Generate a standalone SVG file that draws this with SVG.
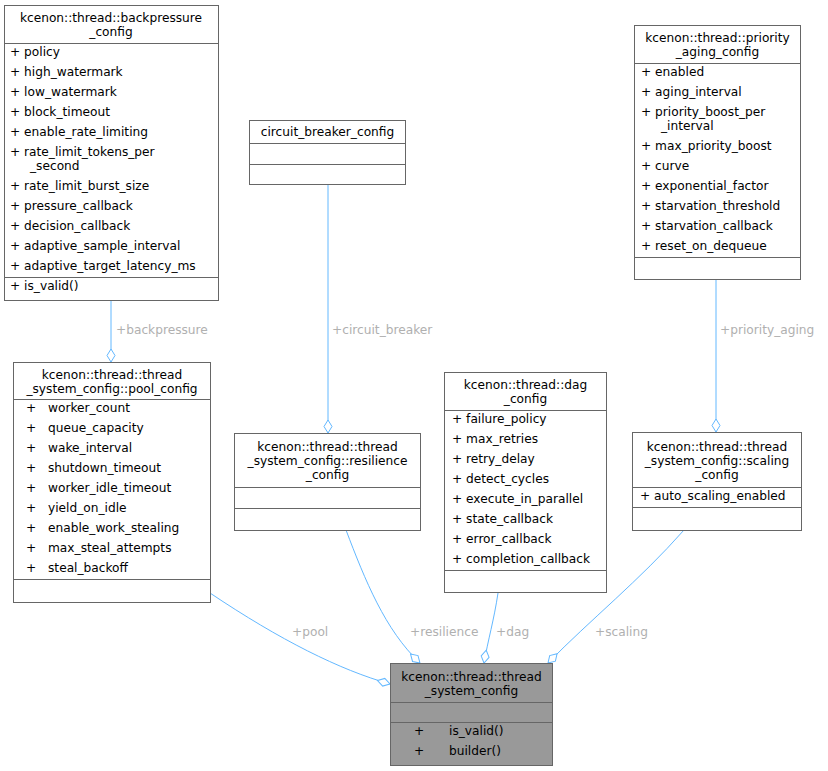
<svg xmlns="http://www.w3.org/2000/svg" width="828" height="771" viewBox="0 0 828 771">
<style>
.b{fill:#fff;stroke:#666;stroke-width:1}
.m{fill:#999;stroke:#666;stroke-width:1}
.s{stroke:#666;stroke-width:1}
text{font-family:"DejaVu Sans",sans-serif;font-size:12.2px;fill:#000}
.c{text-anchor:middle}
.l{fill:#b0b0b0}
.e{fill:none;stroke:#63b8ff;stroke-width:1;marker-end:url(#d)}
</style>
<defs>
<marker id="d" markerUnits="userSpaceOnUse" markerWidth="16" markerHeight="12" refX="14" refY="5" orient="auto">
<path d="M1,5 L7.5,1 L14,5 L7.5,9 Z" fill="#fff" stroke="#63b8ff"/>
</marker>
</defs>
<rect width="828" height="771" fill="#fff"/>
<g id="connectors">
<path class="e" d="M111,300 V362"/>
<text class="l" x="116" y="334">+backpressure</text>
<path class="e" d="M328,185 V433"/>
<text class="l" x="332" y="334">+circuit_breaker</text>
<path class="e" d="M716,280 V432"/>
<text class="l" x="720" y="334">+priority_aging</text>
<path class="e" d="M210,593 C280,640 340,670 390,684"/>
<text class="l" x="292" y="636">+pool</text>
<path class="e" d="M346,530 C365,580 385,630 420,663"/>
<text class="l" x="410" y="636">+resilience</text>
<path class="e" d="M498,593 C494,620 488,640 484,663"/>
<text class="l" x="496" y="636">+dag</text>
<path class="e" d="M684,530 C640,580 590,620 548,663"/>
<text class="l" x="595" y="636">+scaling</text>
</g>
<g id="backpressure_config">
<rect class="b" x="4.5" y="5.5" width="214" height="295"/>
<text class="c" x="111" y="22">kcenon::thread::backpressure</text>
<text class="c" x="111" y="36">_config</text>
<line class="s" x1="4.5" y1="43.5" x2="218.5" y2="43.5"/>
<text x="10" y="56">+  policy</text>
<text x="10" y="76">+  high_watermark</text>
<text x="10" y="96">+  low_watermark</text>
<text x="10" y="116">+  block_timeout</text>
<text x="10" y="136">+  enable_rate_limiting</text>
<text x="10" y="156">+  rate_limit_tokens_per</text>
<text x="30" y="170">_second</text>
<text x="10" y="190">+  rate_limit_burst_size</text>
<text x="10" y="210">+  pressure_callback</text>
<text x="10" y="230">+  decision_callback</text>
<text x="10" y="250">+  adaptive_sample_interval</text>
<text x="10" y="270">+  adaptive_target_latency_ms</text>
<line class="s" x1="4.5" y1="277.5" x2="218.5" y2="277.5"/>
<text x="10" y="290">+  is_valid()</text>
</g>
<g id="circuit_breaker_config">
<rect class="b" x="249.5" y="120.5" width="156" height="64"/>
<text class="c" x="327.5" y="136">circuit_breaker_config</text>
<line class="s" x1="249.5" y1="143.5" x2="405.5" y2="143.5"/>
<line class="s" x1="249.5" y1="164.5" x2="405.5" y2="164.5"/>
</g>
<g id="priority_aging_config">
<rect class="b" x="634.5" y="25.5" width="166" height="254"/>
<text class="c" x="717.5" y="42">kcenon::thread::priority</text>
<text class="c" x="717.5" y="56">_aging_config</text>
<line class="s" x1="634.5" y1="63.5" x2="800.5" y2="63.5"/>
<text x="641" y="76">+  enabled</text>
<text x="641" y="96">+  aging_interval</text>
<text x="641" y="116">+  priority_boost_per</text>
<text x="661" y="130">_interval</text>
<text x="641" y="150">+  max_priority_boost</text>
<text x="641" y="170">+  curve</text>
<text x="641" y="190">+  exponential_factor</text>
<text x="641" y="210">+  starvation_threshold</text>
<text x="641" y="230">+  starvation_callback</text>
<text x="641" y="250">+  reset_on_dequeue</text>
<line class="s" x1="634.5" y1="257.5" x2="800.5" y2="257.5"/>
</g>
<g id="pool_config">
<rect class="b" x="13.5" y="362.5" width="197" height="240"/>
<text class="c" x="112" y="379">kcenon::thread::thread</text>
<text class="c" x="112" y="393">_system_config::pool_config</text>
<line class="s" x1="13.5" y1="399.5" x2="210.5" y2="399.5"/>
<text x="26" y="412">+</text><text x="48" y="412">worker_count</text>
<text x="26" y="432">+</text><text x="48" y="432">queue_capacity</text>
<text x="26" y="452">+</text><text x="48" y="452">wake_interval</text>
<text x="26" y="472">+</text><text x="48" y="472">shutdown_timeout</text>
<text x="26" y="492">+</text><text x="48" y="492">worker_idle_timeout</text>
<text x="26" y="512">+</text><text x="48" y="512">yield_on_idle</text>
<text x="26" y="532">+</text><text x="48" y="532">enable_work_stealing</text>
<text x="26" y="552">+</text><text x="48" y="552">max_steal_attempts</text>
<text x="26" y="572">+</text><text x="48" y="572">steal_backoff</text>
<line class="s" x1="13.5" y1="579.5" x2="210.5" y2="579.5"/>
</g>
<g id="resilience_config">
<rect class="b" x="234.5" y="433.5" width="186" height="97"/>
<text class="c" x="327.5" y="451">kcenon::thread::thread</text>
<text class="c" x="327.5" y="465">_system_config::resilience</text>
<text class="c" x="327.5" y="479">_config</text>
<line class="s" x1="234.5" y1="487.5" x2="420.5" y2="487.5"/>
<line class="s" x1="234.5" y1="508.5" x2="420.5" y2="508.5"/>
</g>
<g id="dag_config">
<rect class="b" x="444.5" y="372.5" width="162" height="220"/>
<text class="c" x="525.5" y="389">kcenon::thread::dag</text>
<text class="c" x="525.5" y="403">_config</text>
<line class="s" x1="444.5" y1="410.5" x2="606.5" y2="410.5"/>
<text x="452" y="423">+  failure_policy</text>
<text x="452" y="443">+  max_retries</text>
<text x="452" y="463">+  retry_delay</text>
<text x="452" y="483">+  detect_cycles</text>
<text x="452" y="503">+  execute_in_parallel</text>
<text x="452" y="523">+  state_callback</text>
<text x="452" y="543">+  error_callback</text>
<text x="452" y="563">+  completion_callback</text>
<line class="s" x1="444.5" y1="570.5" x2="606.5" y2="570.5"/>
</g>
<g id="scaling_config">
<rect class="b" x="632.5" y="432.5" width="169" height="98"/>
<text class="c" x="717" y="451">kcenon::thread::thread</text>
<text class="c" x="717" y="465">_system_config::scaling</text>
<text class="c" x="717" y="479">_config</text>
<line class="s" x1="632.5" y1="487.5" x2="801.5" y2="487.5"/>
<text x="640" y="500">+  auto_scaling_enabled</text>
<line class="s" x1="632.5" y1="507.5" x2="801.5" y2="507.5"/>
</g>
<g id="thread_system_config">
<rect class="m" x="390.5" y="663.5" width="162" height="102"/>
<text class="c" x="471.5" y="681">kcenon::thread::thread</text>
<text class="c" x="471.5" y="695">_system_config</text>
<line class="s" x1="390.5" y1="702.5" x2="552.5" y2="702.5"/>
<line class="s" x1="390.5" y1="722.5" x2="552.5" y2="722.5"/>
<text x="414" y="735">+</text><text x="449" y="735">is_valid()</text>
<text x="414" y="755">+</text><text x="449" y="755">builder()</text>
</g>
</svg>
